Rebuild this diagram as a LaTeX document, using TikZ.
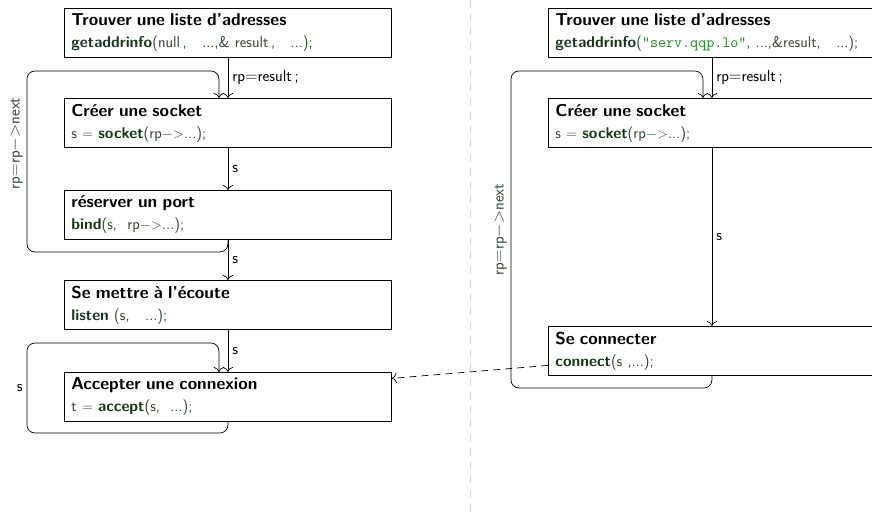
\documentclass[tikz,border=0pt]{standalone}
\usetikzlibrary{arrows.meta}
\definecolor{codefn}{RGB}{22,55,22}
\definecolor{codearg}{RGB}{48,72,48}
\definecolor{codestr}{RGB}{34,139,34}
\newcommand{\fonction}[1]{\textcolor{codefn}{\textbf{#1}}}
\newcommand{\titre}[1]{{\fontsize{17.2}{19}\selectfont\bfseries #1}}
\newcommand{\fleche}{$-$$>$}
\tikzset{
	sockets/.cd,
	etape/.style = {
		draw,
		line width = 0.8pt,
		anchor = north west,
		minimum width = 327pt,
		minimum height = 49pt,
		text width = 313pt,
		inner xsep = 7pt,
		align = left,
		font = \sffamily\fontsize{15.6}{19}\selectfont
	},
	lien/.style = {
		-{To[scale = 1.6]},
		line width = 0.7pt
	},
	boucle/.style = {
		sockets/lien,
		rounded corners = 8pt
	},
	appel/.style = {
		sockets/lien,
		dash pattern = on 7pt off 5pt
	},
	separateur/.style = {
		black!18,
		line width = 0.8pt,
		dash pattern = on 7pt off 7pt
	},
	etiquette/.style = {
		font = \sffamily\fontsize{16}{19}\selectfont,
		inner sep = 4pt
	},
	etiquette code/.style = {
		sockets/etiquette,
		text = codearg
	},
}

\begin{document}
\begin{tikzpicture}[x = 1pt, y = -1pt]
	\useasboundingbox (0, 0) rectangle (872, 516);
	\draw[sockets/separateur] (470, 0) -- (470, 516);
	% serveur
	\node[sockets/etape] (G1) at (64, 8) {\titre{Trouver une liste d'adresses}\\[3pt]\textcolor{codearg}{\fonction{getaddrinfo}(null\,, \ \ ...,\& result\,, \ \ ...);}};
	\node[sockets/etape] (G2) at (64, 98) {\titre{Créer une socket}\\[3pt]\textcolor{codearg}{s $=$ \fonction{socket}(rp\fleche...);}};
	\node[sockets/etape] (G3) at (64, 190) {\titre{réserver un port}\\[3pt]\textcolor{codearg}{\fonction{bind}(s, \ rp\fleche...);}};
	\node[sockets/etape] (G4) at (64, 280) {\titre{Se mettre à l'écoute}\\[3pt]\textcolor{codearg}{\fonction{listen} (s, \ \ ...);}};
	\node[sockets/etape] (G5) at (64, 372) {\titre{Accepter une connexion}\\[3pt]\textcolor{codearg}{t $=$ \fonction{accept}(s, \ ...);}};
	% client
	\node[sockets/etape] (D1) at (548, 8) {\titre{Trouver une liste d'adresses}\\[3pt]\textcolor{codearg}{\fonction{getaddrinfo}(\textcolor{codestr}{\texttt{"serv.qqp.lo"}}, ...,\&result, \ \ ...);}};
	\node[sockets/etape] (D2) at (548, 98) {\titre{Créer une socket}\\[3pt]\textcolor{codearg}{s $=$ \fonction{socket}(rp\fleche...);}};
	\node[sockets/etape] (D3) at (548, 326) {\titre{Se connecter}\\[3pt]\textcolor{codearg}{\fonction{connect}(s ,...);}};
	\foreach \de/\vers/\texte in {G1/G2/{rp$=$result\,;}, G2/G3/s, G3/G4/s, G4/G5/s, D1/D2/{rp$=$result\,;}, D2/D3/s}{
		\draw[sockets/lien] (\de.south) -- (\vers.north) node[midway, right, sockets/etiquette] {\texte};
	}
	% boucles
	\draw[sockets/boucle] (G3.south) |- (27, 252) -- node[pos = 0.6, rotate = 90, anchor = south, sockets/etiquette code] {rp$=$rp\fleche next} (27, 71) -| ([xshift = -9pt]G2.north);
	\draw[sockets/boucle] (G5.south) |- (27, 433) -- node[midway, left, sockets/etiquette] {s} (27, 343) -| ([xshift = -9pt]G5.north);
	\draw[sockets/boucle] (D3.south) |- (511, 388) -- node[midway, rotate = 90, anchor = south, sockets/etiquette code] {rp$=$rp\fleche next} (511, 71) -| ([xshift = -9pt]D2.north);
	\draw[sockets/appel] ([yshift = -14.5pt]D3.west) -- ([yshift = 18.5pt]G5.east);
\end{tikzpicture}
\end{document}
